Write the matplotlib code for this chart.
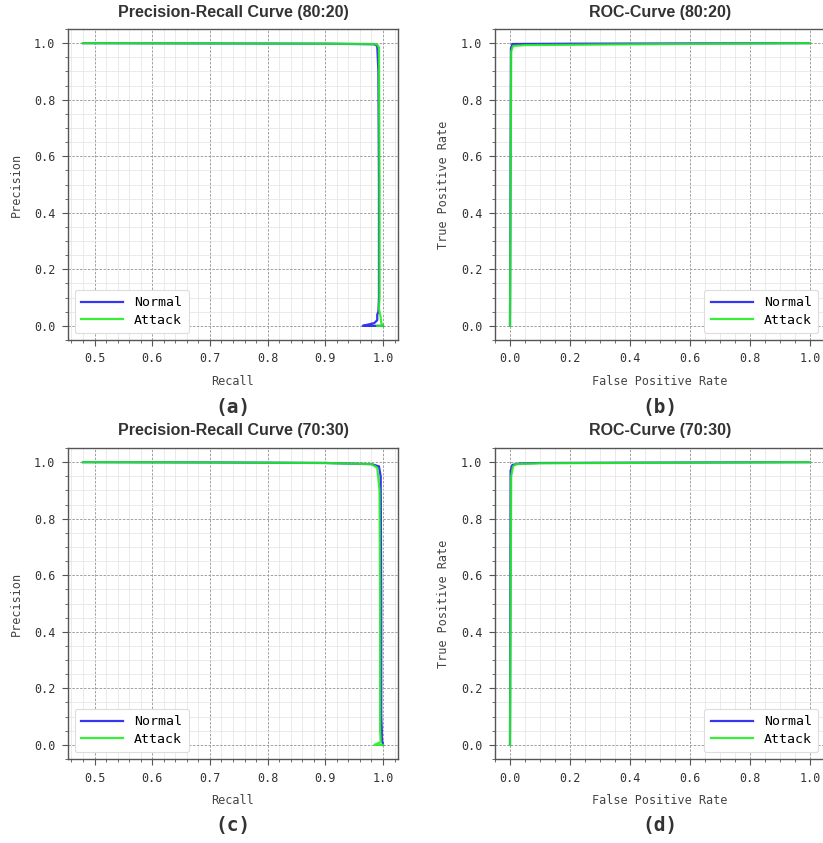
import numpy as np
import matplotlib
matplotlib.use("Agg")
import matplotlib.pyplot as plt
from matplotlib.ticker import AutoMinorLocator

# curve points
pr_8020_normal_r = [0.48, 0.70, 0.90, 0.985, 0.990, 0.992, 0.993, 0.993, 0.992, 0.990, 0.990, 0.985, 0.975, 0.965, 1.0]
pr_8020_normal_p = [1.0, 0.999, 0.998, 0.996, 0.990, 0.900, 0.500, 0.100, 0.050, 0.040, 0.020, 0.010, 0.005, 0.0, 0.0]
pr_8020_attack_r = [0.48, 0.70, 0.90, 0.980, 0.990, 0.993, 0.994, 0.994, 0.993, 0.996, 0.997, 1.0, 0.990]
pr_8020_attack_p = [1.0, 0.999, 0.998, 0.997, 0.995, 0.985, 0.500, 0.100, 0.060, 0.030, 0.010, 0.0, 0.0]

roc_8020_normal_fpr = [0.0, 0.003, 0.008, 0.02, 0.2, 1.0]
roc_8020_normal_tpr = [0.0, 0.980, 0.997, 0.997, 0.998, 1.0]
roc_8020_attack_fpr = [0.0, 0.004, 0.010, 0.05, 0.3, 1.0]
roc_8020_attack_tpr = [0.0, 0.970, 0.990, 0.993, 0.995, 1.0]

pr_7030_normal_r = [0.48, 0.70, 0.90, 0.980, 0.993, 0.996, 0.997, 0.997, 0.998, 0.998, 1.0]
pr_7030_normal_p = [1.0, 0.999, 0.997, 0.993, 0.985, 0.950, 0.500, 0.100, 0.050, 0.020, 0.0]
pr_7030_attack_r = [0.48, 0.70, 0.90, 0.980, 0.990, 0.994, 0.995, 0.995, 0.996, 0.985, 1.0]
pr_7030_attack_p = [1.0, 0.999, 0.997, 0.993, 0.980, 0.900, 0.500, 0.050, 0.010, 0.0, 0.0]

roc_7030_normal_fpr = [0.0, 0.002, 0.008, 0.03, 0.1, 1.0]
roc_7030_normal_tpr = [0.0, 0.970, 0.990, 0.995, 0.997, 1.0]
roc_7030_attack_fpr = [0.0, 0.004, 0.010, 0.02, 0.1, 1.0]
roc_7030_attack_tpr = [0.0, 0.950, 0.985, 0.993, 0.996, 1.0]

class_names = ["Normal", "Attack"]
colors = ["#2020f0", "#22ee22"]

mono = "DejaVu Sans Mono"
W, H = 823, 843
fig = plt.figure(figsize=(W / 100, H / 100), dpi=100)


def make_ax(left, top, title, xlabel, ylabel, curves, xticks, legend_loc, tag):
    ax = fig.add_axes([left / W, 1 - (top + 311) / H, 330 / W, 311 / H])
    for (x, y), name, c in zip(curves, class_names, colors):
        ax.plot(x, y, color=c, lw=1.6, label=name, alpha=0.9)
    ax.set_xticks(xticks)
    ax.set_yticks([0.0, 0.2, 0.4, 0.6, 0.8, 1.0])
    ax.xaxis.set_minor_locator(AutoMinorLocator())
    ax.yaxis.set_minor_locator(AutoMinorLocator())
    ax.grid(which="major", ls=(0, (2.5, 1.5)), color="#a0a0a0", lw=0.7)
    ax.grid(which="minor", ls="-", color="#e6e6e6", lw=0.6)
    ax.set_axisbelow(True)
    for s in ax.spines.values():
        s.set_color("#555555")
        s.set_linewidth(1.0)
    ax.tick_params(which="major", length=4, color="#555555", labelsize=8.5,
                   labelcolor="#333333", pad=5)
    ax.tick_params(which="minor", length=2, color="#555555")
    for lab in ax.get_xticklabels() + ax.get_yticklabels():
        lab.set_family(mono)
    ax.set_title(title, fontsize=11.5, fontweight="bold", family="Liberation Sans",
                 color="#333333", pad=9)
    ax.set_xlabel(xlabel, family=mono, fontsize=8.5, color="#444444", labelpad=7)
    ax.set_ylabel(ylabel, family=mono, fontsize=8.5, color="#444444", labelpad=8)
    leg = ax.legend(loc=legend_loc, prop={"family": mono, "size": 9.5},
                    handlelength=3.2, framealpha=1.0, edgecolor="#dddddd",
                    borderpad=0.5, labelspacing=0.35)
    leg.get_frame().set_linewidth(0.8)
    fig.text((left + 165) / W, 1 - (top + 378) / H, tag, family=mono,
             fontsize=14, fontweight="bold", color="#333333", ha="center", va="center")
    return ax


pr_ticks = [0.5, 0.6, 0.7, 0.8, 0.9, 1.0]
roc_ticks = [0.0, 0.2, 0.4, 0.6, 0.8, 1.0]

make_ax(68, 29, "Precision-Recall Curve (80:20)", "Recall", "Precision",
        [(pr_8020_normal_r, pr_8020_normal_p), (pr_8020_attack_r, pr_8020_attack_p)],
        pr_ticks, "lower left", "(a)")
make_ax(495, 29, "ROC-Curve (80:20)", "False Positive Rate", "True Positive Rate",
        [(roc_8020_normal_fpr, roc_8020_normal_tpr), (roc_8020_attack_fpr, roc_8020_attack_tpr)],
        roc_ticks, "lower right", "(b)")
make_ax(68, 448, "Precision-Recall Curve (70:30)", "Recall", "Precision",
        [(pr_7030_normal_r, pr_7030_normal_p), (pr_7030_attack_r, pr_7030_attack_p)],
        pr_ticks, "lower left", "(c)")
make_ax(495, 448, "ROC-Curve (70:30)", "False Positive Rate", "True Positive Rate",
        [(roc_7030_normal_fpr, roc_7030_normal_tpr), (roc_7030_attack_fpr, roc_7030_attack_tpr)],
        roc_ticks, "lower right", "(d)")

fig.savefig("out.png", dpi=100, facecolor="white")
